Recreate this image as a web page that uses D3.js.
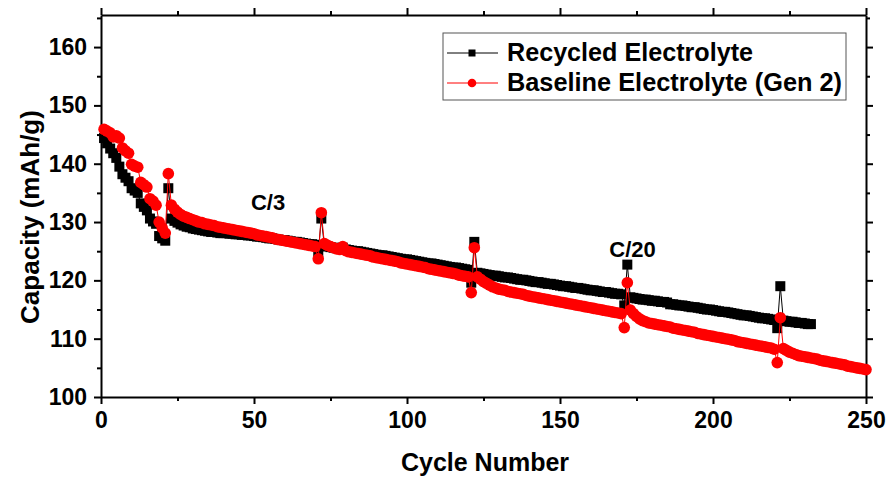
<!DOCTYPE html>
<html>
<head>
<meta charset="utf-8">
<script src="https://cdn.jsdelivr.net/npm/d3@7"></script>
<style>
  body { margin: 0; background: #fff; }
  svg { display: block; font-family: Arial, "Liberation Sans", sans-serif; font-weight: bold; }
</style>
</head>
<body>
<svg id="chart" width="889" height="478"></svg>
<script>
// capacity per cycle (cycle = index + 1)
const recycledCap = [
  144.4, 143.5, 142.6, 141.8, 141.0, 139.5, 138.2, 137.6, 137.0, 135.8,
  135.4, 135.0, 133.2, 132.6, 132.0, 130.6, 130.1, 129.7, 127.6, 127.2,
  126.8, 135.8, 130.6, 130.2, 129.9, 129.6, 129.4, 129.2, 129.1, 128.9,
  128.8, 128.7, 128.6, 128.5, 128.4, 128.3, 128.3, 128.2, 128.1, 128.1,
  128.1, 128.0, 128.0, 127.9, 127.9, 127.8, 127.8, 127.7, 127.7, 127.6,
  127.5, 127.5, 127.4, 127.3, 127.2, 127.2, 127.1, 127.0, 126.9, 126.9,
  126.8, 126.7, 126.6, 126.6, 126.5, 126.4, 126.3, 126.2, 126.2, 126.1,
  124.8, 130.6, 125.9, 125.8, 125.7, 125.6, 125.5, 125.4, 125.6, 125.3,
  125.2, 125.1, 125.0, 125.0, 124.9, 124.8, 124.7, 124.6, 124.5, 124.4,
  124.3, 124.3, 124.2, 124.1, 124.0, 123.9, 123.8, 123.7, 123.6, 123.6,
  123.5, 123.4, 123.3, 123.2, 123.1, 123.0, 122.9, 122.9, 122.8, 122.7,
  122.6, 122.5, 122.4, 122.3, 122.2, 122.2, 122.1, 122.0, 121.9, 121.8,
  119.6, 126.6, 121.3, 121.2, 121.1, 121.0, 120.9, 120.8, 120.8, 120.7,
  120.6, 120.5, 120.5, 120.4, 120.3, 120.2, 120.1, 120.1, 120.0, 119.9,
  119.8, 119.7, 119.7, 119.6, 119.5, 119.4, 119.4, 119.3, 119.2, 119.1,
  119.0, 119.0, 118.9, 118.8, 118.7, 118.7, 118.6, 118.5, 118.4, 118.3,
  118.3, 118.2, 118.1, 118.0, 118.0, 117.9, 117.8, 117.7, 117.7, 117.6,
  115.7, 122.7, 117.1, 117.0, 116.9, 116.8, 116.7, 116.7, 116.6, 116.5,
  116.5, 116.4, 116.3, 116.3, 116.2, 115.9, 115.9, 115.8, 115.7, 115.7,
  115.6, 115.5, 115.4, 115.4, 115.3, 115.2, 115.1, 115.0, 115.0, 114.9,
  114.8, 114.7, 114.6, 114.6, 114.5, 114.4, 114.3, 114.2, 114.1, 114.0,
  114.0, 113.9, 113.8, 113.7, 113.6, 113.5, 113.5, 113.4, 113.3, 113.2,
  111.8, 119.0, 113.1, 113.0, 112.9, 112.9, 112.8, 112.7, 112.7, 112.6,
  112.5, 112.5
]

const baselineCap = [
  145.9, 145.6, 145.3, 144.6, 144.8, 144.4, 142.7, 142.2, 141.8, 139.9,
  139.6, 139.4, 136.8, 136.4, 136.0, 134.0, 133.6, 132.9, 130.0, 129.0,
  128.1, 138.3, 132.9, 132.2, 131.7, 131.3, 131.0, 130.8, 130.6, 130.4,
  130.2, 130.0, 129.9, 129.7, 129.6, 129.5, 129.4, 129.2, 129.1, 129.0,
  128.9, 128.8, 128.7, 128.6, 128.5, 128.4, 128.3, 128.2, 128.1, 128.0,
  127.8, 127.7, 127.6, 127.5, 127.4, 127.3, 127.1, 127.0, 126.9, 126.8,
  126.7, 126.6, 126.5, 126.4, 126.3, 126.2, 126.1, 126.0, 125.9, 125.8,
  123.7, 131.6, 126.3, 126.0, 125.8, 125.6, 125.4, 125.3, 125.8, 125.1,
  124.9, 124.8, 124.7, 124.6, 124.5, 124.4, 124.3, 124.2, 124.0, 123.9,
  123.8, 123.7, 123.6, 123.5, 123.4, 123.3, 123.2, 123.0, 122.9, 122.8,
  122.7, 122.6, 122.5, 122.4, 122.3, 122.2, 122.0, 121.9, 121.8, 121.7,
  121.6, 121.5, 121.4, 121.3, 121.2, 121.1, 120.9, 120.8, 120.7, 120.6,
  117.9, 125.6, 120.6, 120.2, 119.8, 119.5, 119.2, 118.9, 118.7, 118.5,
  118.4, 118.3, 118.1, 118.0, 117.9, 117.8, 117.7, 117.6, 117.4, 117.3,
  117.2, 117.1, 117.0, 116.9, 116.8, 116.7, 116.6, 116.5, 116.4, 116.3,
  116.2, 116.1, 116.0, 115.9, 115.8, 115.7, 115.6, 115.5, 115.4, 115.3,
  115.2, 115.1, 115.0, 114.9, 114.8, 114.7, 114.6, 114.5, 114.4, 114.3,
  111.9, 119.6, 114.9, 114.3, 113.8, 113.4, 113.1, 112.9, 112.7, 112.6,
  112.5, 112.4, 112.3, 112.2, 112.1, 112.0, 111.8, 111.7, 111.6, 111.5,
  111.4, 111.3, 111.2, 111.1, 110.9, 110.8, 110.7, 110.6, 110.5, 110.4,
  110.3, 110.2, 110.1, 110.0, 109.9, 109.8, 109.7, 109.5, 109.4, 109.3,
  109.2, 109.1, 109.0, 108.9, 108.8, 108.7, 108.6, 108.5, 108.4, 108.2,
  105.9, 113.6, 108.3, 108.0, 107.7, 107.5, 107.3, 107.1, 107.0, 106.9,
  106.8, 106.7, 106.6, 106.5, 106.3, 106.2, 106.1, 106.0, 105.9, 105.8,
  105.7, 105.6, 105.5, 105.3, 105.2, 105.1, 105.0, 104.9, 104.8, 104.7
]

const xTicks = [0, 50, 100, 150, 200, 250]
const yTicks = [100, 110, 120, 130, 140, 150, 160]
const seriesNames = ['Recycled Electrolyte', 'Baseline Electrolyte (Gen 2)']
const rateLabels = [
  { text: 'C/3', cycle: 54.6, cap: 132.0 },
  { text: 'C/20', cycle: 173.7, cap: 124.0 }
]

const svg = d3.select('#chart')
const plotL = 101, plotR = 866, plotT = 15, plotB = 397

const x = d3.scaleLinear().domain([0, 250]).range([plotL, plotR])
const y = d3.scaleLinear().domain([100, 165.5]).range([plotB, plotT])

const fontTick = '23px'

// minor ticks first, then the major ones with labels
function minorAxis(axis, g) {
  g.call(axis.tickSize(4).tickFormat(''))
  g.select('.domain').remove()
  g.selectAll('line').attr('stroke-width', 2)
}

svg.append('g').attr('transform', `translate(0,${plotB})`)
  .call(g => minorAxis(d3.axisBottom(x).tickValues(d3.range(25, 250, 50)), g))
svg.append('g').attr('transform', `translate(0,${plotT})`)
  .call(g => minorAxis(d3.axisTop(x).tickValues(d3.range(25, 250, 50)), g))
svg.append('g').attr('transform', `translate(${plotL},0)`)
  .call(g => minorAxis(d3.axisLeft(y).tickValues(d3.range(105, 166, 10)), g))
svg.append('g').attr('transform', `translate(${plotR},0)`)
  .call(g => minorAxis(d3.axisRight(y).tickValues(d3.range(105, 166, 10)), g))

const xAxis = svg.append('g').attr('transform', `translate(0,${plotB})`)
  .call(d3.axisBottom(x).tickValues(xTicks).tickSize(7).tickPadding(8).tickSizeOuter(0))
const yAxis = svg.append('g').attr('transform', `translate(${plotL},0)`)
  .call(d3.axisLeft(y).tickValues(yTicks).tickSize(7).tickPadding(7).tickSizeOuter(0))
const xTop = svg.append('g').attr('transform', `translate(0,${plotT})`)
  .call(d3.axisTop(x).tickValues(xTicks).tickSize(7).tickFormat('').tickSizeOuter(0))
const yRight = svg.append('g').attr('transform', `translate(${plotR},0)`)
  .call(d3.axisRight(y).tickValues(yTicks).tickSize(7).tickFormat('').tickSizeOuter(0))

;[xAxis, yAxis, xTop, yRight].forEach(g => {
  g.attr('font-family', null).attr('font-size', null)
  g.select('.domain').attr('stroke-width', 2)
  g.selectAll('line').attr('stroke-width', 2)
  g.selectAll('text').style('font-size', fontTick).attr('fill', '#000')
})

// axis titles
svg.append('text')
  .attr('x', 485).attr('y', 471)
  .attr('text-anchor', 'middle').style('font-size', '25px')
  .text('Cycle Number')
svg.append('text')
  .attr('transform', 'translate(39,217) rotate(-90)')
  .attr('text-anchor', 'middle').style('font-size', '26px')
  .text('Capacity (mAh/g)')

// data
const recycled = recycledCap.map((v, i) => ({ c: i + 1, v: v }))
const baseline = baselineCap.map((v, i) => ({ c: i + 1, v: v }))

const line = d3.line().x(d => x(d.c)).y(d => y(d.v))

svg.append('path').datum(recycled)
  .attr('d', line).attr('fill', 'none').attr('stroke', '#000').attr('stroke-width', 1)
svg.selectAll('rect.rec').data(recycled).enter().append('rect')
  .attr('class', 'rec')
  .attr('x', d => x(d.c) - 5).attr('y', d => y(d.v) - 5)
  .attr('width', 10).attr('height', 10).attr('fill', '#000')

svg.append('path').datum(baseline)
  .attr('d', line).attr('fill', 'none').attr('stroke', '#ff0000').attr('stroke-width', 1)
svg.selectAll('circle.base').data(baseline).enter().append('circle')
  .attr('class', 'base')
  .attr('cx', d => x(d.c)).attr('cy', d => y(d.v))
  .attr('r', 5.8).attr('fill', '#ff0000')

// rate annotations
svg.selectAll('text.rate').data(rateLabels).enter().append('text')
  .attr('class', 'rate')
  .attr('x', d => x(d.cycle)).attr('y', d => y(d.cap))
  .attr('text-anchor', 'middle').style('font-size', '22px')
  .text(d => d.text)

// legend
const lg = svg.append('g')
lg.append('rect')
  .attr('x', 443).attr('y', 33).attr('width', 403).attr('height', 67)
  .attr('fill', '#fff').attr('stroke', '#555').attr('stroke-width', 1)

const rows = lg.selectAll('g.row').data(seriesNames).enter().append('g')
  .attr('class', 'row')
  .attr('transform', (d, i) => `translate(0,${53 + i * 30})`)
rows.append('line')
  .attr('x1', 447).attr('x2', 498).attr('y1', 0).attr('y2', 0)
  .attr('stroke', (d, i) => i ? '#ff0000' : '#000').attr('stroke-width', 1)
rows.filter((d, i) => i === 0).append('rect')
  .attr('x', 468.5).attr('y', -3.5).attr('width', 7).attr('height', 7).attr('fill', '#000')
rows.filter((d, i) => i === 1).append('circle')
  .attr('cx', 472).attr('cy', 0).attr('r', 4.3).attr('fill', '#ff0000')
rows.append('text')
  .attr('x', 507).attr('y', 8).style('font-size', '25px')
  .attr('textLength', (d, i) => i ? 335 : 246)
  .attr('lengthAdjust', 'spacingAndGlyphs')
  .text(d => d)
</script>
</body>
</html>
